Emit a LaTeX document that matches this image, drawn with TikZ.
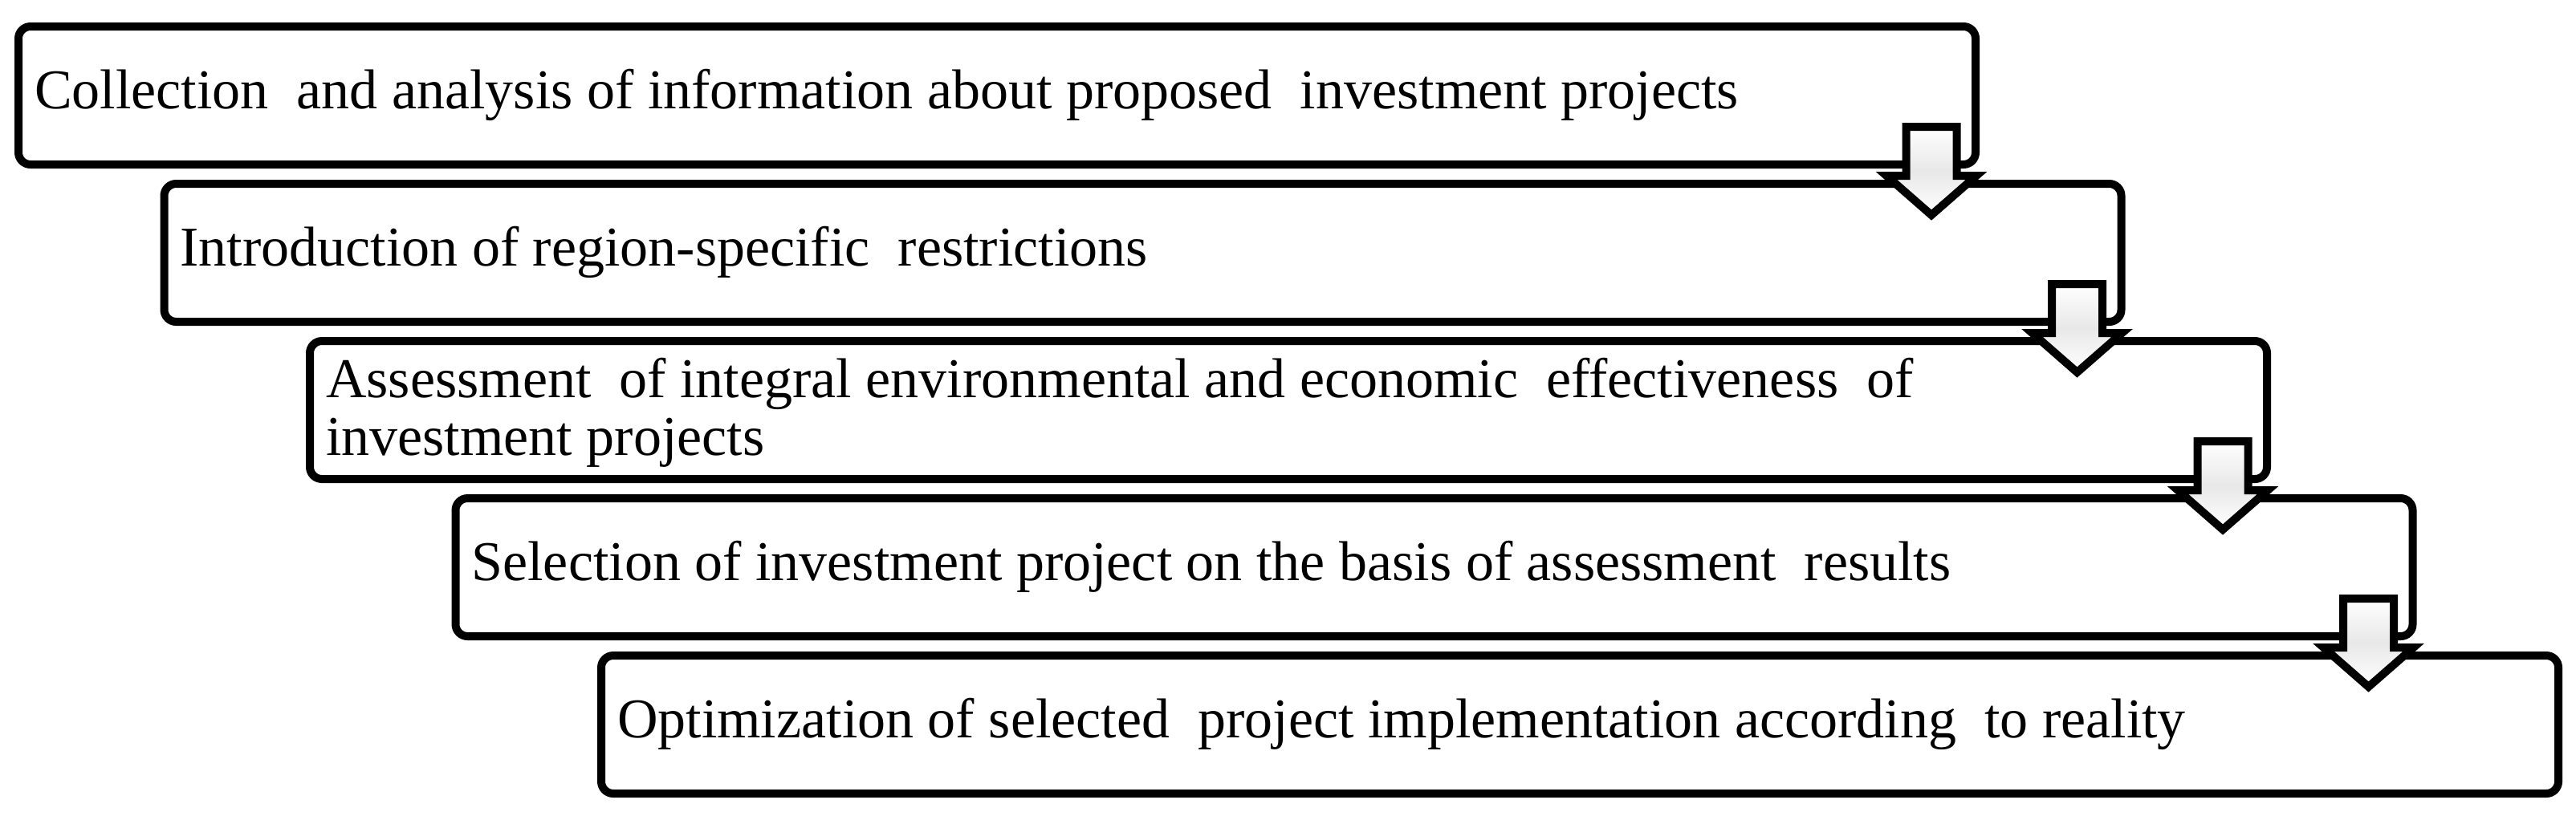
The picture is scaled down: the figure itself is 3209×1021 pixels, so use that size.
\documentclass[tikz,border=0pt]{standalone}
\usepackage{fontspec}
\setmainfont{Liberation Serif}
\usetikzlibrary{calc}
\tikzset{
  boxstyle/.style={draw=black, line width=2.5pt, rounded corners=3.75pt, fill=white,
    minimum width=609.5pt, minimum height=43pt, inner sep=0pt, outer sep=0pt},
  txtstyle/.style={anchor=base west, inner sep=0pt, outer sep=0pt, align=left,
    font=\fontsize{17.5pt}{18pt}\selectfont},
  arrowstyle/.style={draw=black, line width=2.5pt, miter limit=10, line join=miter,
    top color=white, bottom color=white, middle color=black!9}
}
\newcommand\blockarr[2]{%
  \coordinate (#1c) at ($(#1.south east)+(-55,0)$);
  \draw[arrowstyle] ($(#1c)+(-31.5,-47)$) -- ($(#1c)+(31.5,-47)$)
    -- ($(#1c|-#2.north)+(31.5,-10)$) -- ($(#1c|-#2.north)+(56,-10)$)
    -- ($(#1c|-#2.north)+(0,39)$) -- ($(#1c|-#2.north)+(-56,-10)$)
    -- ($(#1c|-#2.north)+(-31.5,-10)$) -- cycle;
}
\begin{document}
\begin{tikzpicture}[x=0.25pt, y=-0.25pt]
\useasboundingbox (0,0) rectangle (3209,1021);
\node[boxstyle] (b1) at (1242, 119) {};
\node[boxstyle] (b2) at (1423.5, 315) {};
\node[boxstyle] (b3) at (1605, 511) {};
\node[boxstyle] (b4) at (1786.5, 707) {};
\node[boxstyle] (b5) at (1968, 903) {};
\node[txtstyle] (t1) at ($(b1.north west)+(20,102)$) {Collection\ \ and analysis of information about proposed\ \ investment projects};
\node[txtstyle] (t2) at ($(b2.north west)+(20,102)$) {Introduction of region-specific\ \ restrictions};
\node[txtstyle] (t3) at ($(b3.north west)+(20,142)$) {Assessment\ \ of integral environmental and economic\ \ effectiveness\ \ of\\investment projects};
\node[txtstyle] (t4) at ($(b4.north west)+(20,102)$) {Selection of investment project on the basis of assessment\ \ results};
\node[txtstyle] (t5) at ($(b5.north west)+(20,102)$) {Optimization of selected\ \ project implementation according\ \ to reality};
\blockarr{b1}{b2}
\blockarr{b2}{b3}
\blockarr{b3}{b4}
\blockarr{b4}{b5}
\end{tikzpicture}
\end{document}
